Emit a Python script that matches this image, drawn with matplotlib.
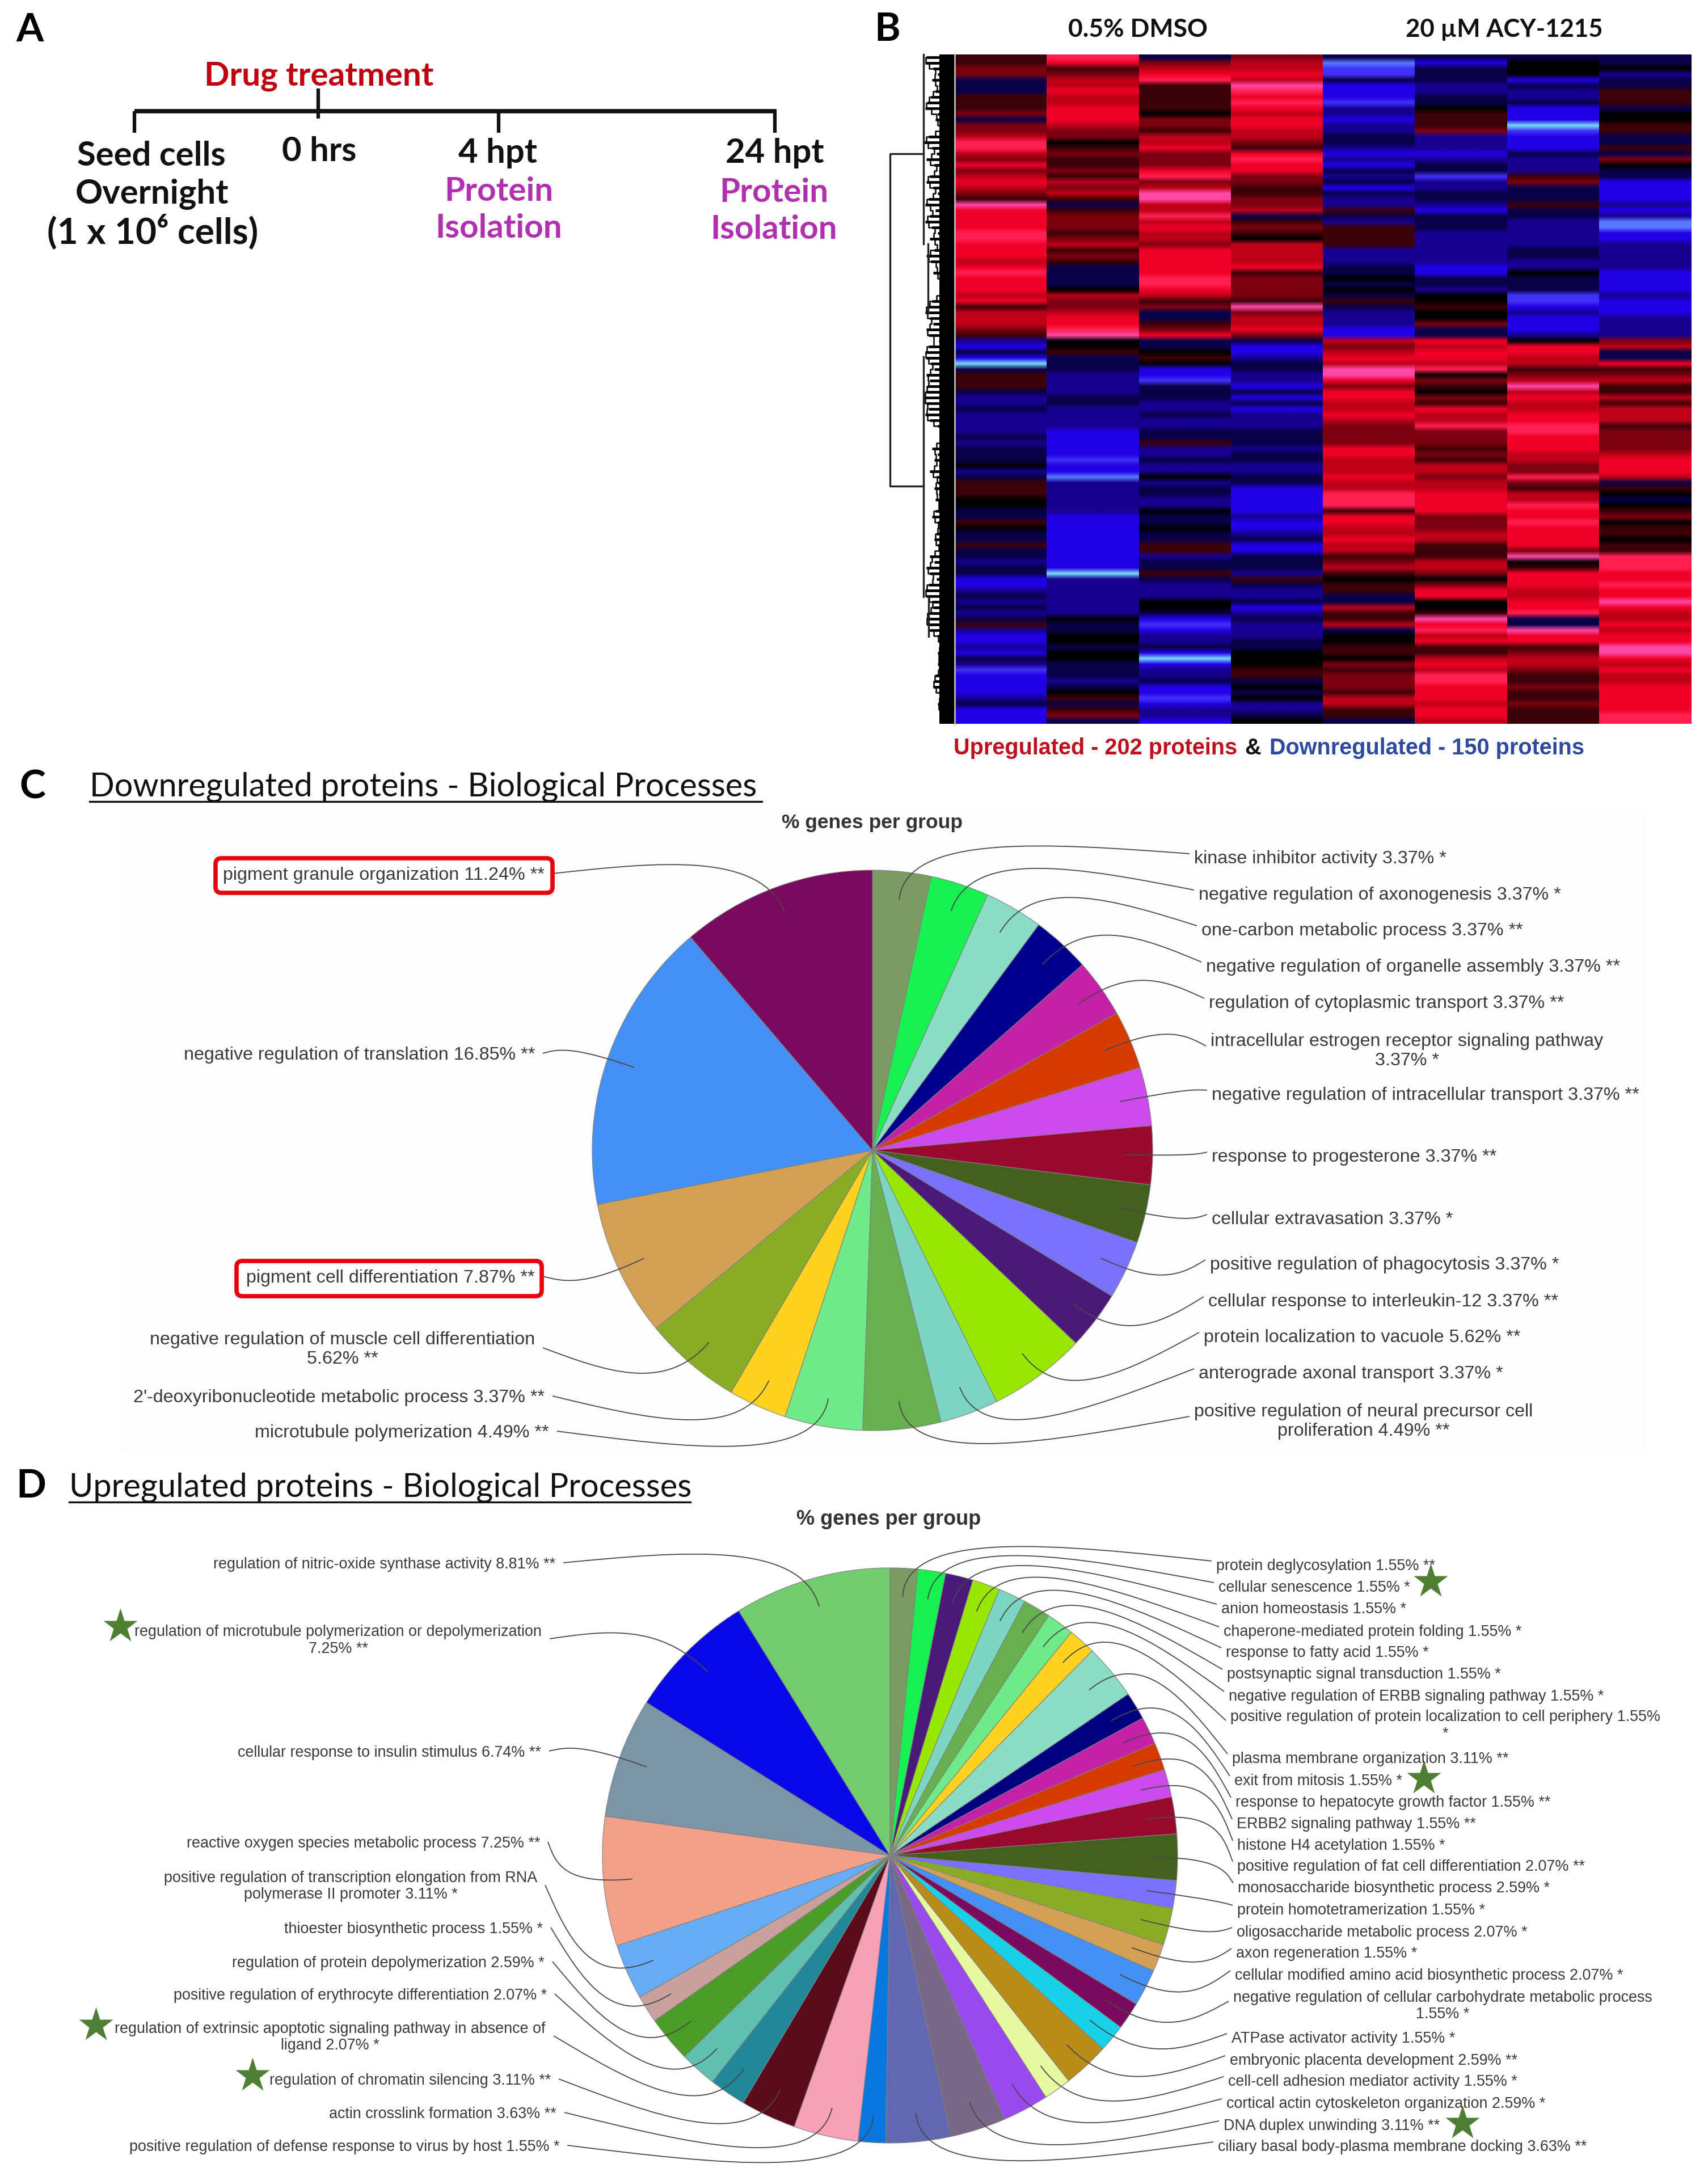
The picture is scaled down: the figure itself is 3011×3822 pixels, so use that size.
import numpy as np
import matplotlib
matplotlib.use("Agg")
import matplotlib.pyplot as plt
from matplotlib.colors import LinearSegmentedColormap
from matplotlib.patches import FancyBboxPatch, PathPatch, Rectangle
from matplotlib.path import Path

W, H = 3011, 3823
ARIAL = ['Liberation Sans', 'DejaVu Sans']
CALIBRI = ['Lato', 'DejaVu Sans']

# ---- panel B, one list per sample, top row first (-6 light blue .. 0 black .. 6 pink)
dmso_1 = [1,1,2,2,-1,-1,-1,1,1,1,2,-1,2,2,3,5,5,3,2,4,2,3,4,3,2,1,6,4,4,
          4,4,5,5,4,4,4,3,4,5,4,4,4,3,4,1,3,3,3,2,1,-2,-3,-1,-3,-6,-1,1,1,1,
          -1,-2,-2,-1,-2,-2,-2,-2,-1,-2,-1,-1,-1,0,-2,-1,1,1,1,0,0,-1,-1,1,0,-1,-1,1,-1,-1,
          -2,-1,-1,-3,-3,-2,-1,-2,-1,-2,-1,1,-2,-3,-3,-2,-3,-1,-2,-4,-3,-3,-3,-3,-2,-1,-3,-3,-3]
dmso_2 = [5,4,1,2,3,3,4,3,3,4,4,4,3,2,2,0,1,2,1,1,2,1,3,2,3,1,-1,1,2,
          2,2,1,2,3,1,2,1,-1,-1,-1,-1,0,3,2,2,3,4,4,5,6,0,0,1,-1,-1,-1,-2,-2,-2,
          -2,-1,-1,-2,-2,-2,-2,-3,-3,-3,-3,-3,-4,-3,-3,-5,-2,-2,-2,-2,-2,-2,-3,-3,-3,-3,-3,-3,-3,-3,
          -3,-3,-6,-2,-2,-2,-2,-2,-2,-2,0,-1,-1,0,0,-1,0,0,-1,-1,-1,-2,-1,0,1,-1,1,2,-1]
dmso_3 = [-1,2,3,4,5,1,1,1,1,1,0,2,2,1,3,3,4,2,2,2,4,5,2,3,6,6,3,3,5,
          3,4,3,3,2,4,4,4,4,4,5,5,4,3,1,2,-1,-1,1,2,4,-1,-1,0,1,0,-3,-3,-4,-1,
          -1,-1,-2,-2,-1,-2,-2,-1,-1,1,-2,-2,-1,-2,-2,0,-2,-1,-1,-2,-2,0,-1,-1,0,-1,-1,1,1,-2,
          -1,-1,1,-1,-2,-2,-2,0,0,-1,-3,-4,-3,-2,-2,-1,-3,-6,-3,-2,-2,-1,-3,-3,-4,-3,-2,-2,-3]
dmso_4 = [2,3,3,4,3,6,5,4,5,4,3,4,4,3,3,2,1,4,5,4,4,2,2,1,1,2,2,3,-1,
          1,2,1,0,3,3,3,3,4,1,2,2,2,2,1,6,2,3,3,4,2,-1,-3,-3,-2,-1,-1,-2,-2,-3,
          -1,-3,-1,-3,-2,-2,-2,-1,-1,-1,-2,-1,-1,-2,-2,-1,-1,-3,-3,-3,-3,-3,-2,-3,-3,-2,-1,-3,-3,-1,
          -1,-1,-2,1,-1,-2,-2,-1,-3,-2,-1,-2,-2,-2,-1,-1,0,0,0,1,1,-1,0,-1,0,-2,-2,-1,0]
acy_1 = [-1,-5,-4,-4,-1,-3,-3,-3,-4,-2,-2,-3,-2,-2,-1,-1,-2,-3,-2,-3,-1,-2,-1,-3,-1,-2,-2,1,-1,
         -2,1,1,1,1,-2,-2,-2,-1,-1,0,-1,0,-1,1,-1,-2,-2,-2,-3,-3,3,2,3,4,3,6,6,4,2,
         4,4,3,3,4,3,2,2,2,2,4,4,3,3,3,4,3,3,5,5,5,1,4,4,3,3,4,3,3,1,
         2,3,1,0,1,1,-1,-1,3,1,1,3,-1,0,0,1,1,0,2,1,2,2,2,1,3,3,1,1,-1]
acy_2 = [-1,-3,-1,-1,-1,-2,-2,-1,-1,0,1,1,1,2,-2,-2,-2,-3,-2,-1,-1,-4,-2,-2,-1,-1,-2,-3,-1,
         -1,-1,-2,-2,-2,-2,-2,-2,-3,-3,-1,-1,-2,0,0,1,0,0,2,-1,-1,4,3,4,4,3,5,0,2,1,
         0,2,1,4,3,3,5,2,2,2,1,2,1,3,3,2,3,3,4,4,4,4,2,2,2,3,3,1,1,1,
         3,3,2,0,2,4,4,0,0,1,6,4,5,3,4,1,1,3,4,3,5,5,4,4,4,3,4,4,3]
acy_3 = [-1,0,0,0,-3,-1,-2,-2,-1,-3,-3,-3,-6,-4,-3,-3,-3,-1,-2,-2,-2,1,2,-1,-1,-1,1,-1,-1,
         -2,-2,-2,-2,-2,-1,-1,-2,-2,0,-1,-1,-1,-4,-4,-3,-2,-3,-3,-3,-2,0,4,4,3,3,1,2,3,6,
         3,4,3,3,4,4,5,5,4,4,4,3,3,2,2,5,2,1,3,3,5,4,4,5,4,4,4,4,2,6,
         0,1,4,4,4,3,3,4,4,5,-1,-1,6,4,4,1,2,3,3,2,1,1,2,1,1,2,1,1,1]
acy_4 = [-1,-1,0,-2,-1,-1,1,1,1,-1,0,0,1,1,-1,-1,1,-1,2,0,-1,-1,-3,-3,-3,-3,-2,-3,-2,
         -5,-5,-3,-3,-2,-2,-2,-2,-2,-3,-3,-3,-3,-2,-3,-3,-3,-2,-2,-2,-2,2,3,-1,-1,4,1,2,3,1,
         1,3,1,3,3,3,1,2,2,2,2,3,4,4,4,3,-1,1,0,-1,0,1,2,0,1,1,0,1,1,5,
         5,5,4,4,5,4,4,6,4,3,3,4,3,4,4,6,6,4,3,4,3,3,4,4,4,4,4,5,5]
heat_samples = [dmso_1, dmso_2, dmso_3, dmso_4, acy_1, acy_2, acy_3, acy_4]
heat_colors = ['#78dcff', '#5878ff', '#4030f8', '#2200e8', '#180090', '#0a0048', '#000000',
               '#3c0008', '#7c0010', '#bc0018', '#f00026', '#ff2050', '#ff48a8']
# branch length of each row in the tree, same order as the rows
leaf_depth = [50,52,38,30,40,28,34,42,48,52,30,34,26,22,46,54,40,32,50,36,28,44,50,38,30,46,52,34,44,
              52,40,30,44,26,36,50,42,24,38,22,18,20,24,40,48,52,44,38,50,46,28,46,52,50,42,36,50,44,48,
              50,54,50,46,52,44,30,22,26,24,40,30,36,28,44,32,30,36,28,34,22,34,40,30,28,32,36,30,26,44,
              36,50,44,32,46,52,50,40,38,46,50,48,44,30,28,24,30,26,30,24,34,36,38,28,24,30,26,22,20]

# ---- panel C, clockwise from 12 o'clock
c_terms = ["kinase inhibitor activity 3.37% *",
           "negative regulation of axonogenesis 3.37% *",
           "one-carbon metabolic process 3.37% **",
           "negative regulation of organelle assembly 3.37% **",
           "regulation of cytoplasmic transport 3.37% **",
           "intracellular estrogen receptor signaling pathway\n3.37% *",
           "negative regulation of intracellular transport 3.37% **",
           "response to progesterone 3.37% **",
           "cellular extravasation 3.37% *",
           "positive regulation of phagocytosis 3.37% *",
           "cellular response to interleukin-12 3.37% **",
           "protein localization to vacuole 5.62% **",
           "anterograde axonal transport 3.37% *",
           "positive regulation of neural precursor cell\nproliferation 4.49% **",
           "microtubule polymerization 4.49% **",
           "2'-deoxyribonucleotide metabolic process 3.37% **",
           "negative regulation of muscle cell differentiation\n5.62% **",
           "pigment cell differentiation 7.87% **",
           "negative regulation of translation 16.85% **",
           "pigment granule organization 11.24% **"]
c_values = [3.37, 3.37, 3.37, 3.37, 3.37, 3.37, 3.37, 3.37, 3.37, 3.37, 3.37, 5.62, 3.37, 4.49,
            4.49, 3.37, 5.62, 7.87, 16.85, 11.24]
c_colors = ['#7a9b62', '#17f04f', '#8adcc4', '#00008f', '#c521a8', '#d63b00', '#cc4aee', '#9a0a30',
            '#43601f', '#7a72ff', '#4a1a78', '#99e600', '#7ad6c0', '#66b050', '#6eea88', '#ffd21f',
            '#8aab26', '#d2a055', '#4490f4', '#7a0a60']
c_label_x = [2105, 2113, 2118, 2126, 2131, 2134, 2136, 2136, 2136, 2133, 2130, 2122, 2113, 2105,
             968, 960, 943, 943, 943, 960]
c_label_y = [1514, 1578, 1641, 1705, 1769, 1853, 1931, 2040, 2150, 2230, 2295, 2358, 2422, 2506,
             2526, 2464, 2379, 2253, 1860, 1543]
c_n_right = 14

# ---- panel D, clockwise from 12 o'clock
d_terms = ["protein deglycosylation 1.55% **",
           "cellular senescence 1.55% *",
           "anion homeostasis 1.55% *",
           "chaperone-mediated protein folding 1.55% *",
           "response to fatty acid 1.55% *",
           "postsynaptic signal transduction 1.55% *",
           "negative regulation of ERBB signaling pathway 1.55% *",
           "positive regulation of protein localization to cell periphery 1.55%\n*",
           "plasma membrane organization 3.11% **",
           "exit from mitosis 1.55% *",
           "response to hepatocyte growth factor 1.55% **",
           "ERBB2 signaling pathway 1.55% **",
           "histone H4 acetylation 1.55% *",
           "positive regulation of fat cell differentiation 2.07% **",
           "monosaccharide biosynthetic process 2.59% *",
           "protein homotetramerization 1.55% *",
           "oligosaccharide metabolic process 2.07% *",
           "axon regeneration 1.55% *",
           "cellular modified amino acid biosynthetic process 2.07% *",
           "negative regulation of cellular carbohydrate metabolic process\n1.55% *",
           "ATPase activator activity 1.55% *",
           "embryonic placenta development 2.59% **",
           "cell-cell adhesion mediator activity 1.55% *",
           "cortical actin cytoskeleton organization 2.59% *",
           "DNA duplex unwinding 3.11% **",
           "ciliary basal body-plasma membrane docking 3.63% **",
           "positive regulation of defense response to virus by host 1.55% *",
           "actin crosslink formation 3.63% **",
           "regulation of chromatin silencing 3.11% **",
           "regulation of extrinsic apoptotic signaling pathway in absence of\nligand 2.07% *",
           "positive regulation of erythrocyte differentiation 2.07% *",
           "regulation of protein depolymerization 2.59% *",
           "thioester biosynthetic process 1.55% *",
           "positive regulation of transcription elongation from RNA\npolymerase II promoter 3.11% *",
           "reactive oxygen species metabolic process 7.25% **",
           "cellular response to insulin stimulus 6.74% **",
           "regulation of microtubule polymerization or depolymerization\n7.25% **",
           "regulation of nitric-oxide synthase activity 8.81% **"]
d_values = [1.55, 1.55, 1.55, 1.55, 1.55, 1.55, 1.55, 1.55, 3.11, 1.55, 1.55, 1.55, 1.55, 2.07, 2.59,
            1.55, 2.07, 1.55, 2.07, 1.55, 1.55, 2.59, 1.55, 2.59, 3.11, 3.63,
            1.55, 3.63, 3.11, 2.07, 2.07, 2.59, 1.55, 3.11, 7.25, 6.74, 7.25, 8.81]
d_colors = ['#7a9b62', '#17f04f', '#4a1a78', '#99e600', '#7ad6c0', '#66b050', '#6eea88', '#ffd21f',
            '#8adcc4', '#000080', '#c521a8', '#d63b00', '#cc4aee', '#9a0a30', '#43601f', '#7a72ff',
            '#8aab26', '#d2a055', '#4490f4', '#7a0a60', '#18d0e8', '#b88c18', '#e8f8a0', '#9a48f0',
            '#7a6888', '#6068b0', '#0878e0', '#f8a0b8', '#5a0c1c', '#208898', '#60c0b0', '#4c9c28',
            '#c8a09c', '#64acf4', '#f4a088', '#7a94a8', '#0808e8', '#70cc6c']
d_label_x = [2144, 2148, 2153, 2157, 2161, 2163, 2166, 2169, 2172, 2176, 2178, 2180, 2181, 2181, 2182,
             2181, 2180, 2179, 2177, 2174, 2171, 2168, 2165, 2162, 2157, 2147,
             986, 981, 971, 962, 964, 960, 957, 947, 952, 954, 955, 979]
d_label_y = [2761, 2799, 2837, 2877, 2914, 2952, 2991, 3042, 3101, 3140, 3178, 3216, 3254, 3291, 3329,
             3368, 3407, 3444, 3483, 3537, 3594, 3633, 3670, 3709, 3748, 3785,
             3785, 3727, 3668, 3592, 3518, 3461, 3401, 3326, 3250, 3090, 2892, 2758]
d_n_right = 26
star_x = [212, 169, 445, 2522, 2510, 2578]
star_y = [2868, 3571, 3660, 2789, 3136, 3744]

fig = plt.figure(figsize=(W / 100, H / 100), dpi=100, facecolor='white')


def px_axes(x0, y0, x1, y1):
    return fig.add_axes([x0 / W, 1 - y1 / H, (x1 - x0) / W, (y1 - y0) / H])


# faint page behind the pie export
fig.add_artist(Rectangle((212 / W, 1 - 2560 / H), 2690 / W, 1130 / H, transform=fig.transFigure,
                         fc='#fdfdfd', ec='none', zorder=-1))

# heatmap, one image per sample so that only the rows get the soft edge of the original
cmap = LinearSegmentedColormap.from_list('bbr', heat_colors)
n_rows = len(dmso_1)
hax = px_axes(1683, 97, 2981, 1277)
for i, sample in enumerate(heat_samples):
    hax.imshow(np.array(sample)[:, None], extent=[i, i + 1, n_rows, 0], aspect='auto', cmap=cmap, vmin=-6, vmax=6,
               interpolation='bilinear', interpolation_stage='rgba')
hax.set_xlim(0, len(heat_samples))
hax.set_ylim(n_rows, 0)
hax.axis('off')


def draw_pie(values, colors, cx, cy, r):
    pax = px_axes(cx - r, cy - r, cx + r, cy + r)
    wedges, _ = pax.pie(values, colors=colors, startangle=90, counterclock=False,
                        wedgeprops={'edgecolor': '#808080', 'linewidth': 0.8})
    pax.set_xlim(-1, 1)
    pax.set_ylim(-1, 1)
    return wedges


C_PIE = (1538, 2029, 494)
D_PIE = (1569, 3272, 507)
c_wedges = draw_pie(c_values, c_colors, *C_PIE)
d_wedges = draw_pie(d_values, d_colors, *D_PIE)

# everything else is placed in picture pixels on one overlay
ax = fig.add_axes([0, 0, 1, 1], facecolor='none')
ax.set_xlim(0, W)
ax.set_ylim(H, 0)
ax.axis('off')


def draw_labels(terms, wedges, xs, ys, n_right, pie, size, spacing):
    cx, cy, r = pie
    for i, term in enumerate(terms):
        right = i < n_right
        ax.text(xs[i], ys[i], term, ha='left' if right else 'right', va='center', multialignment='center',
                family=ARIAL, fontsize=size, color='#3a3a3a', linespacing=spacing)
        a = np.deg2rad((wedges[i].theta1 + wedges[i].theta2) / 2)
        dx, dy = np.cos(a), -np.sin(a)
        ex = xs[i] - 8 if right else xs[i] + 14
        ey = ys[i] - 8 if right else ys[i] - 2
        c1 = (cx + 1.14 * r * dx, cy + 1.14 * r * dy)
        c2 = (ex + 0.5 * (c1[0] - ex), ey + 0.5 * (c1[1] - ey))
        verts = [(cx + 0.9 * r * dx, cy + 0.9 * r * dy), c1, c2, (ex, ey)]
        ax.add_patch(PathPatch(Path(verts, [Path.MOVETO, Path.CURVE4, Path.CURVE4, Path.CURVE4]),
                               fc='none', ec='#484848', lw=1.3))


draw_labels(c_terms, c_wedges, c_label_x, c_label_y, c_n_right, C_PIE, 23.2, 1.2)
draw_labels(d_terms, d_wedges, d_label_x, d_label_y, d_n_right, D_PIE, 19.4, 1.15)

ax.text(1538, 1450, "% genes per group", ha='center', va='center', family=ARIAL, fontsize=25.5,
        fontweight='bold', color='#333333')
ax.text(1567, 2679, "% genes per group", ha='center', va='center', family=ARIAL, fontsize=26,
        fontweight='bold', color='#333333')

for x0, y0, x1, y1 in [(380, 1514, 974, 1575), (417, 2224, 955, 2286)]:
    ax.add_patch(FancyBboxPatch((x0 + 8, y0 + 8), x1 - x0 - 16, y1 - y0 - 16, boxstyle='round,pad=8,rounding_size=10',
                                fc='none', ec='#e8000d', lw=5.5))
ax.plot(star_x, star_y, ls='none', marker='*', ms=46, mfc='#4f7f32', mec='none')

# panel titles
for s, x, y in [("A", 53, 53), ("B", 1564, 52), ("C", 57, 1388), ("D", 55, 2621)]:
    ax.text(x, y, s, ha='center', va='center', family=CALIBRI, fontsize=50, fontweight='bold', color='black')
ax.text(158, 1387, "Downregulated proteins - Biological Processes", ha='left', va='center', family=CALIBRI,
        fontsize=41.5, color='#111111')
ax.plot([158, 1343], [1414, 1414], color='#111111', lw=2.4)
ax.text(122, 2622, "Upregulated proteins - Biological Processes", ha='left', va='center', family=CALIBRI,
        fontsize=41.5, color='#111111')
ax.plot([122, 1217], [2649, 2649], color='#111111', lw=2.4)

# panel A timeline
ax.plot([237, 1369], [197, 197], color='#111111', lw=5.5, solid_capstyle='butt')
ax.plot([561, 561], [157, 210], color='#111111', lw=4.5, solid_capstyle='butt')
for x in [237, 879, 1366]:
    ax.plot([x, x], [197, 235], color='#111111', lw=4.5, solid_capstyle='butt')
ax.text(562, 134, "Drug treatment", ha='center', va='center', family=CALIBRI, fontsize=42, fontweight='bold',
        color='#c00010')
for s, x, y, size in [("Seed cells", 267, 275, 43), ("Overnight", 268, 342, 43),
                      ("(1 x 10\u2076 cells)", 269, 408, 46), ("0 hrs", 563, 267, 43),
                      ("4 hpt", 877, 270, 43), ("24 hpt", 1366, 270, 43)]:
    ax.text(x, y, s, ha='center', va='center', family=CALIBRI, fontsize=size, fontweight='bold', color='#111111')
for s, x, y in [("Protein", 879, 337), ("Isolation", 879, 402), ("Protein", 1364, 339), ("Isolation", 1364, 404)]:
    ax.text(x, y, s, ha='center', va='center', family=CALIBRI, fontsize=42, fontweight='bold', color='#b030b0')

# panel B headers, tree and footer
ax.text(2006, 52, "0.5% DMSO", ha='center', va='center', family=CALIBRI, fontsize=32, fontweight='bold',
        color='#111111')
ax.text(2652, 52, "20 \u00b5M ACY-1215", ha='center', va='center', family=CALIBRI, fontsize=31.5, fontweight='bold',
        color='#111111')
ax.text(1681, 1319, "Upregulated - 202 proteins", ha='left', va='center', family=ARIAL, fontsize=28.5,
        fontweight='bold', color='#c0101c')
ax.text(2209, 1319, "&", ha='center', va='center', family=ARIAL, fontsize=28.5, fontweight='bold', color='#111111')
ax.text(2238, 1319, "Downregulated - 150 proteins", ha='left', va='center', family=ARIAL, fontsize=28.5,
        fontweight='bold', color='#2e4a9e')

row_y = np.linspace(97, 1277, len(leaf_depth) + 1)[:-1] + 5
ax.add_patch(Rectangle((1656, 97), 27, 1180, fc='black', ec='none'))
ax.hlines(row_y, 1683 - np.array(leaf_depth), 1683, color='black', lw=3.4)
ax.step(1683 - np.array(leaf_depth), row_y, where='mid', color='black', lw=1.8)
ax.plot([1628, 1628], [97, 431], color='#222222', lw=2.4)
ax.plot([1636, 1636], [431, 552], color='#222222', lw=2.4)
ax.plot([1628, 1628], [630, 1053], color='#222222', lw=2.4)
ax.plot([1637, 1637], [1053, 1123], color='#222222', lw=2.4)
ax.plot([1628, 1569, 1569, 1628], [272, 272, 858, 858], color='#222222', lw=2.4)
ax.plot([1683, 1683], [97, 1277], color='#bdbdbd', lw=2)

fig.savefig('out.png', dpi=100)
